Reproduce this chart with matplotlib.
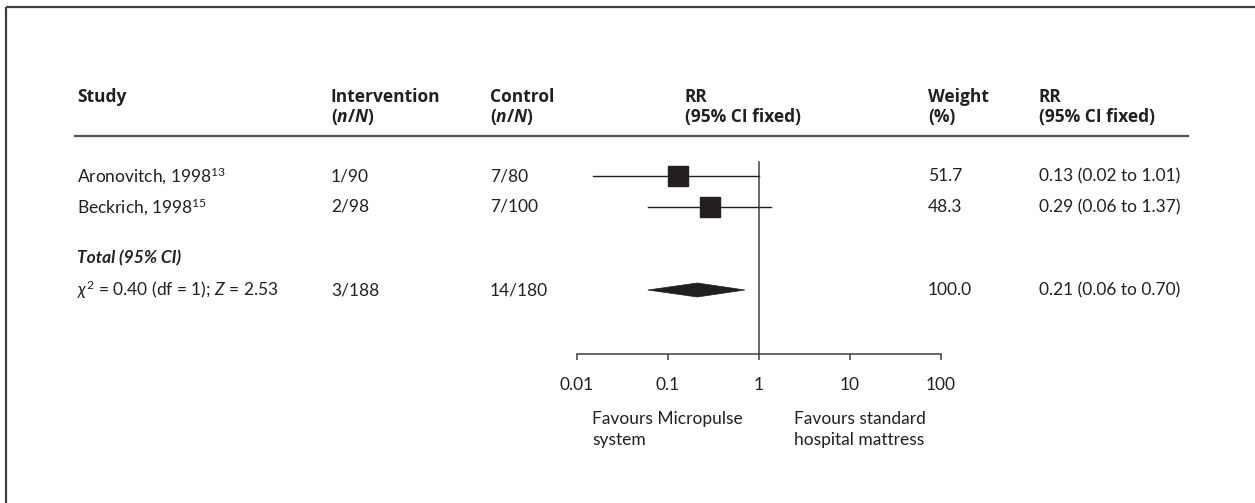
import numpy as np
import matplotlib
matplotlib.use("Agg")
from matplotlib import pyplot as plt
from matplotlib.patches import Polygon

plt.rcParams['font.family'] = ['Lato', 'DejaVu Sans']
plt.rcParams['mathtext.fontset'] = 'custom'
plt.rcParams['mathtext.rm'] = 'Lato'
plt.rcParams['mathtext.it'] = 'Lato:italic'
plt.rcParams['mathtext.bf'] = 'Open Sans:bold'
plt.rcParams['mathtext.bfit'] = 'Open Sans:bold:italic'

# data
studies = ["Aronovitch, 1998$^{13}$", "Beckrich, 1998$^{15}$"]
intervention = ["1/90", "2/98"]
control = ["7/80", "7/100"]
rr = [0.13, 0.29]
ci_lo = [0.015, 0.06]
ci_hi = [1.01, 1.37]
weights = ["51.7", "48.3"]
rr_text = ["0.13 (0.02 to 1.01)", "0.29 (0.06 to 1.37)"]

total_int = "3/188"
total_ctrl = "14/180"
total_rr = 0.21
total_lo = 0.06
total_hi = 0.70
total_weight = "100.0"
total_text = "0.21 (0.06 to 0.70)"
het_text = "$\\chi^2$ = 0.40 (df = 1); $Z$ = 2.53"

ticks = [0.01, 0.1, 1, 10, 100]
tick_labels = ["0.01", "0.1", "1", "10", "100"]

# layout (pixels)
W, H = 1255, 503
row_y = [176, 207]
total_label_y = 258
total_y = 290
axis_y = 354
col_study, col_int, col_ctrl, col_rr, col_w, col_rrt = 77, 331, 490, 685, 928, 1039
fs = 12.5
hfs = 12.5
ink = '#231f20'
nN = "$\\mathbf{(}\\mathbfit{n}\\mathbf{/}\\mathbfit{N}\\mathbf{)}$"

fig = plt.figure(figsize=(W / 100, H / 100), dpi=100)

# text layer
tx = fig.add_axes([0, 0, 1, 1])
tx.set_xlim(0, W)
tx.set_ylim(H, 0)
tx.axis('off')

# frame
tx.plot([6, W], [7, 7], color='#404040', lw=1.6, solid_capstyle='butt')
tx.plot([6, 6], [7, H], color='#404040', lw=1.6, solid_capstyle='butt')

# header
hdr = [(col_study, "Study", None), (col_int, "Intervention", nN),
       (col_ctrl, "Control", nN),
       (col_rr, "RR", "(95% CI fixed)"), (col_w, "Weight", "(%)"),
       (col_rrt, "RR", "(95% CI fixed)")]
for x, l1, l2 in hdr:
    tx.text(x, 97, l1, fontsize=hfs, fontweight='bold', family='Open Sans',
            va='center', color=ink)
    if l2:
        tx.text(x, 117, l2, fontsize=hfs, fontweight='bold', family='Open Sans',
                va='center', color=ink)
tx.plot([75, 1188], [136, 136], color='#555555', lw=1.6)

# study rows
for i in range(len(studies)):
    y = row_y[i]
    tx.text(col_study, y, studies[i], fontsize=fs, va='center', color=ink)
    tx.text(col_int, y, intervention[i], fontsize=fs, va='center', color=ink)
    tx.text(col_ctrl, y, control[i], fontsize=fs, va='center', color=ink)
    tx.text(col_w, y, weights[i], fontsize=fs, va='center', color=ink)
    tx.text(col_rrt, y, rr_text[i], fontsize=fs, va='center', color=ink)

tx.text(col_study, total_label_y, "Total (95% CI)", fontsize=fs, fontweight='bold',
        fontstyle='italic', va='center', color=ink)
tx.text(col_study, total_y, het_text, fontsize=fs, va='center', color=ink)
tx.text(col_int, total_y, total_int, fontsize=fs, va='center', color=ink)
tx.text(col_ctrl, total_y, total_ctrl, fontsize=fs, va='center', color=ink)
tx.text(col_w, total_y, total_weight, fontsize=fs, va='center', color=ink)
tx.text(col_rrt, total_y, total_text, fontsize=fs, va='center', color=ink)

tx.text(592, 411, "Favours Micropulse\nsystem", fontsize=fs, va='top', ha='left',
        color=ink, linespacing=1.35)
tx.text(794, 411, "Favours standard\nhospital mattress", fontsize=fs, va='top', ha='left',
        color=ink, linespacing=1.35)

# forest plot axes
x0, x1 = 577, 941
ax = fig.add_axes([x0 / W, 0, (x1 - x0) / W, 1])
ax.set_xscale('log')
ax.set_xlim(0.01, 100)
ax.set_ylim(H, 0)
ax.patch.set_alpha(0)
for s in ['top', 'right', 'left']:
    ax.spines[s].set_visible(False)
ax.spines['bottom'].set_position(('data', axis_y))
ax.spines['bottom'].set_color('#404040')
ax.spines['bottom'].set_linewidth(1.1)
ax.set_yticks([])
ax.set_xticks(ticks)
ax.set_xticklabels(tick_labels, fontsize=fs, color=ink)
ax.xaxis.set_minor_locator(matplotlib.ticker.NullLocator())
ax.tick_params(axis='x', direction='out', length=4.5, width=1.1, color='#404040', pad=12)

ax.plot([1, 1], [162, axis_y], color='#404040', lw=1.1)
for i in range(len(rr)):
    ax.plot([ci_lo[i], ci_hi[i]], [row_y[i], row_y[i]], color=ink, lw=1.0)
    ax.plot(rr[i], row_y[i], marker='s', markersize=15, color=ink, linestyle='none')

dia = Polygon([[total_lo, total_y], [total_rr, total_y - 7], [total_hi, total_y],
               [total_rr, total_y + 7]], closed=True, facecolor=ink, edgecolor=ink, lw=0.5)
ax.add_patch(dia)

plt.savefig('out.png', dpi=100)
